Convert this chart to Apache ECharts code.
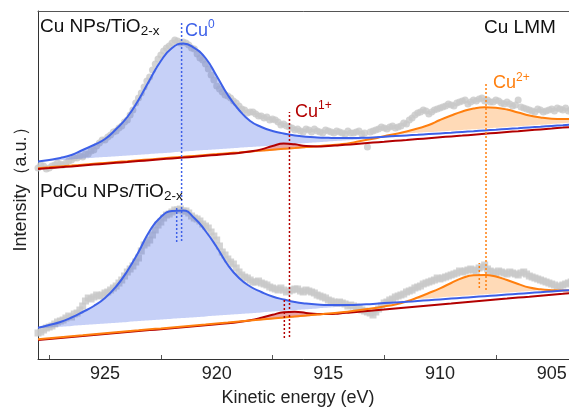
<!DOCTYPE html>
<html>
<head>
<meta charset="utf-8">
<script src="https://cdn.jsdelivr.net/npm/echarts@6/dist/echarts.min.js"></script>
<style>
  html, body { margin: 0; padding: 0; background: #fff; }
  #chart { width: 569px; height: 407px; }
</style>
</head>
<body>
<div id="chart"></div>
<script>
// Kinetic energy grid of the fitted components (eV)
const keFit = [928, 927.5, 927, 926.5, 926, 925.5, 925, 924.5, 924, 923.5, 923, 922.5, 922, 921.5, 921, 920.5, 920, 919.5, 919, 918.5, 918, 917.5, 917, 916.5, 916, 915.5, 915, 914.5, 914, 913.5, 913, 912.5, 912, 911.5, 911, 910.5, 910, 909.5, 909, 908.5, 908, 907.5, 907, 906.5, 906, 905.5, 905, 904.5, 904];

// Kinetic energies of the measured points (eV), two interleaved scans
const keRawA = [928, 927.75, 927.5, 927.25, 927, 926.75, 926.5, 926.25, 926, 925.75, 925.5, 925.25, 925, 924.75, 924.5, 924.25, 924, 923.75, 923.5, 923.25, 923, 922.75, 922.5, 922.25, 922, 921.75, 921.5, 921.25, 921, 920.75, 920.5, 920.25, 920, 919.75, 919.5, 919.25, 919, 918.75, 918.5, 918.25, 918, 917.75, 917.5, 917.25, 917, 916.75, 916.5, 916.25, 916, 915.75, 915.5, 915.25, 915, 914.75, 914.5, 914.25, 914, 913.75, 913.5, 913.25, 913, 912.75, 912.5, 912.25, 912, 911.75, 911.5, 911.25, 911, 910.75, 910.5, 910.25, 910, 909.75, 909.5, 909.25, 909, 908.75, 908.5, 908.25, 908, 907.75, 907.5, 907.25, 907, 906.75, 906.5, 906.25, 906, 905.75, 905.5, 905.25, 905, 904.75, 904.5, 904.25, 904];
const keRawB = [927.875, 927.625, 927.375, 927.125, 926.875, 926.625, 926.375, 926.125, 925.875, 925.625, 925.375, 925.125, 924.875, 924.625, 924.375, 924.125, 923.875, 923.625, 923.375, 923.125, 922.875, 922.625, 922.375, 922.125, 921.875, 921.625, 921.375, 921.125, 920.875, 920.625, 920.375, 920.125, 919.875, 919.625, 919.375, 919.125, 918.875, 918.625, 918.375, 918.125, 917.875, 917.625, 917.375, 917.125, 916.875, 916.625, 916.375, 916.125, 915.875, 915.625, 915.375, 915.125, 914.875, 914.625, 914.375, 914.125, 913.875, 913.625, 913.375, 913.125, 912.875, 912.625, 912.375, 912.125, 911.875, 911.625, 911.375, 911.125, 910.875, 910.625, 910.375, 910.125, 909.875, 909.625, 909.375, 909.125, 908.875, 908.625, 908.375, 908.125, 907.875, 907.625, 907.375, 907.125, 906.875, 906.625, 906.375, 906.125, 905.875, 905.625, 905.375, 905.125, 904.875, 904.625, 904.375, 904.125];

// ---- Cu NPs/TiO2-x (upper trace, offset intensity) ----
const cuRawA = [191, 193, 191, 194, 195, 196, 199, 201, 202, 205, 209, 216, 219, 224, 228, 233, 239, 249, 261, 272, 282, 295, 304, 311, 316, 318, 317, 314, 310, 301, 295, 284, 273, 267, 263, 258, 253, 249, 247, 245, 243, 242, 240, 237, 235, 232, 229, 228, 230, 227, 228, 226, 228, 226, 227, 225, 226, 227, 225, 212, 228, 230, 231, 232, 231, 233, 235, 241, 246, 249, 245, 249, 251, 253, 254, 256, 258, 255, 259, 260, 258, 257, 259, 256, 257, 253, 259, 251, 249, 247, 249, 248, 250, 251, 249, 248, 247];
const cuRawB = [194, 190, 193, 196, 194, 198, 201, 203, 205, 208, 213, 219, 222, 227, 231, 237, 244, 256, 266, 278, 289, 300, 308, 313, 319, 316, 316, 311, 305, 299, 290, 279, 270, 264, 261, 256, 250, 246, 247, 243, 241, 239, 239, 234, 233, 231, 230, 227, 229, 230, 227, 229, 227, 228, 226, 228, 226, 228, 226, 227, 229, 232, 230, 233, 232, 236, 239, 244, 247, 248, 247, 250, 252, 255, 253, 257, 259, 257, 258, 261, 259, 257, 258, 255, 255, 254, 252, 250, 248, 250, 247, 249, 248, 250, 251, 249];
const cuBackground = [190, 190.9, 191.8, 192.6, 193.5, 194.4, 195.3, 196.2, 197, 197.9, 198.8, 199.7, 200.6, 201.4, 202.3, 203.2, 204.1, 205, 205.8, 206.7, 207.6, 208.5, 209.4, 210.2, 211.1, 212, 212.9, 213.8, 214.6, 215.5, 216.4, 217.3, 218.2, 219, 219.9, 220.8, 221.7, 222.6, 223.4, 224.3, 225.2, 226.1, 227, 227.8, 228.7, 229.6, 230.5, 231.4, 232.2];
const cuCu0Background = [197.3, 198.1, 198.9, 199.6, 200.4, 201.2, 201.9, 202.7, 203.5, 204.3, 205.1, 205.8, 206.6, 207.4, 208.2, 208.9, 209.7, 210.5, 211.3, 212, 212.8, 213.6, 214.4, 215.1, 215.9, 216.7, 217.5, 218.2, 219, 219.8, 220.6, 221.3, 222.1, 222.9, 223.7, 224.4, 225.2, 226, 226.8, 227.5, 228.3, 229.1, 229.9, 230.6, 231.4, 232.2, 233, 233.7, 234.5];
const cuCu0 = [197.5, 199, 201, 204, 209, 214, 220, 230, 242, 259, 279, 298, 311, 315.5, 311, 301, 283, 264, 249, 238, 232, 228, 225.5, 223.5, 222.3, 221.6, 221.2, 221, 221, 221.2, 221.6, 222.3, 223, 223.6, 224.2, 224.9, 225.6, 226.3, 227.1, 227.8, 228.6, 229.3, 230.1, 230.8, 231.6, 232.3, 233.1, 233.8, 234.6];
const cuCu1 = [190, 190.9, 191.8, 192.6, 193.5, 194.4, 195.3, 196.2, 197, 197.9, 198.8, 199.7, 200.6, 201.4, 202.3, 203.2, 204.1, 205, 206.1, 207.5, 209.6, 213, 215.4, 214.7, 212.9, 212.5, 213, 213.8, 214.6, 215.5, 216.4, 217.3, 218.2, 219, 219.9, 220.8, 221.7, 222.6, 223.4, 224.3, 225.2, 226.1, 227, 227.8, 228.7, 229.6, 230.5, 231.4, 232.2];
const cuCu2 = [190.8, 191.7, 192.6, 193.4, 194.3, 195.2, 196.1, 197, 197.8, 198.7, 199.6, 200.5, 201.4, 202.2, 203.1, 204, 204.9, 205.8, 206.6, 207.5, 208.4, 209.3, 210.2, 211, 211.9, 212.8, 213.7, 214.6, 216, 218.3, 220.3, 222.8, 225, 227.5, 230.5, 234, 239, 243.5, 247.5, 250.5, 251.7, 251.2, 249.5, 246.5, 243.5, 241.5, 240.3, 240, 240];

// ---- PdCu NPs/TiO2-x (lower trace) ----
const pdcuRawA = [26, 29, 32, 35, 38, 41, 42, 46, 53, 61, 62, 63, 66, 69, 73, 79, 87, 93, 101, 114, 119, 129, 137, 144, 147, 149, 148, 146, 141, 138, 133, 127, 119, 107, 100, 95, 87, 82, 79, 77, 76, 74, 71, 69, 69, 68, 70, 68, 69, 67, 64, 62, 59, 57, 57, 55, 54, 52, 49, 47, 44, 50, 56, 59, 62, 64, 67, 69, 72, 75, 77, 79, 80, 82, 84, 86, 87, 89, 89, 91, 94, 88, 86, 87, 85, 86, 84, 87, 83, 81, 79, 77, 75, 72, 74, 76, 75];
const pdcuRawB = [27, 31, 33, 37, 39, 43, 45, 49, 58, 60, 64, 64, 67, 71, 76, 83, 90, 97, 108, 116, 124, 134, 141, 145, 149, 150, 148, 143, 140, 135, 131, 123, 113, 104, 97, 91, 84, 81, 77, 78, 75, 72, 70, 71, 67, 69, 70, 67, 68, 66, 63, 61, 58, 56, 56, 53, 53, 51, 48, 46, 47, 53, 57, 60, 63, 65, 68, 71, 73, 76, 78, 81, 81, 83, 85, 88, 88, 90, 88, 92, 90, 87, 88, 86, 87, 85, 86, 85, 82, 80, 78, 76, 74, 73, 75, 77];
const pdcuBackground = [19, 20, 21, 22, 22.9, 23.9, 24.9, 25.9, 26.9, 27.9, 28.9, 29.8, 30.8, 31.8, 32.8, 33.8, 34.8, 35.7, 36.7, 37.7, 38.7, 39.7, 40.7, 41.7, 42.6, 43.6, 44.6, 45.6, 46.6, 47.6, 48.6, 49.5, 50.5, 51.5, 52.5, 53.5, 54.5, 55.4, 56.4, 57.4, 58.4, 59.4, 60.4, 61.4, 62.3, 63.3, 64.3, 65.3, 66.3];
const pdcuCu0Background = [30.7, 31.5, 32.3, 33.1, 33.9, 34.7, 35.5, 36.3, 37.1, 37.9, 38.7, 39.5, 40.3, 41, 41.8, 42.6, 43.4, 44.2, 45, 45.8, 46.6, 47.4, 48.2, 49, 49.8, 50.6, 51.4, 52.2, 53, 53.8, 54.6, 55.4, 56.1, 56.9, 57.7, 58.5, 59.3, 60.1, 60.9, 61.7, 62.5, 63.3, 64.1, 64.9, 65.7, 66.5, 67.3, 68.1, 68.9];
const pdcuCu0 = [31.3, 34, 37, 41.5, 47, 53, 61, 72.5, 88, 107, 128, 142, 148, 148.5, 141, 128, 112, 94, 81, 72.5, 67, 62.5, 59.5, 57, 55.5, 54.5, 54, 54, 54, 54.5, 55, 56, 56.5, 57.2, 58, 58.8, 59.6, 60.4, 61.2, 62, 62.8, 63.6, 64.4, 65.2, 66, 66.8, 67.6, 68.4, 69.2];
const pdcuCu1 = [19, 20, 21, 22, 22.9, 23.9, 24.9, 25.9, 26.9, 27.9, 28.9, 29.8, 30.8, 31.8, 32.8, 33.8, 34.8, 35.7, 37, 38.7, 41.2, 44.2, 46.7, 47.2, 46.1, 45.1, 45, 45.6, 46.6, 47.6, 48.6, 49.5, 50.5, 51.5, 52.5, 53.5, 54.5, 55.4, 56.4, 57.4, 58.4, 59.4, 60.4, 61.4, 62.3, 63.3, 64.3, 65.3, 66.3];
const pdcuCu2 = [19.8, 20.8, 21.8, 22.8, 23.7, 24.7, 25.7, 26.7, 27.7, 28.7, 29.7, 30.6, 31.6, 32.6, 33.6, 34.6, 35.6, 36.5, 37.5, 38.5, 39.5, 40.5, 41.5, 42.5, 43.4, 44.4, 45.4, 46.6, 47.8, 49.2, 50.8, 52.6, 54.5, 57.5, 61.5, 66, 70.7, 76, 81, 83.7, 84, 82.5, 79, 75, 71.5, 69.7, 68.8, 68.4, 69];

// Peak-position guides: [kinetic energy, lower intensity, upper intensity]
const cu0Guides = [[921.57, 118, 336], [921.79, 117, 151]];
const cu1Guides = [[916.74, 22, 247], [916.97, 21, 61]];
const cu2Guides = [[907.94, 69, 276], [908.24, 71, 96]];

// Axis ticks
const majorTicks = [925, 920, 915, 910, 905];
const minorTicks = [927.5, 922.5, 917.5, 912.5, 907.5];

const FONT = '"Liberation Sans", Arial, Helvetica, sans-serif';
const BLUE = '#3d60e8';
const BLUE_FILL = 'rgba(65, 100, 230, 0.30)';
const RED = '#b30000';
const RED_FILL = 'rgba(200, 30, 30, 0.40)';
const ORANGE = '#ff7f0e';
const ORANGE_FILL = 'rgba(255, 140, 30, 0.32)';
const GRAY = '#c8c8c8';
const FILL_GAP = 2; // white gap between a component fill and the line beneath it

// Rows are [intensity, energy] so the intensity is the first (stackable) dimension;
// encode maps them back onto the axes.
const rows = (xs, ys) => xs.map((x, i) => [ys[i], x]);
const ENC = { x: 1, y: 0 };
const series = [];

// measured spectra
function measured(xs, ys, symbol) {
  series.push({ type: 'scatter', data: rows(xs, ys), encode: ENC, symbol: symbol, symbolSize: 7,
    itemStyle: { color: GRAY }, z: 1, silent: true });
}
measured(keRawA, cuRawA, 'circle');
measured(keRawB, cuRawB, 'circle');
measured(keRawA, pdcuRawA, 'rect');
measured(keRawB, pdcuRawB, 'rect');

// shaded component areas: an invisible floor plus the stacked height above it
function shade(id, floor, top, color) {
  const common = { type: 'line', stack: id, stackStrategy: 'all', smooth: true, showSymbol: false,
    encode: ENC, lineStyle: { width: 0, opacity: 0 }, z: 2, silent: true };
  series.push(Object.assign({}, common, { data: rows(keFit, floor) }));
  series.push(Object.assign({}, common, {
    data: rows(keFit, top.map((v, i) => Math.max(0, v - floor[i]))),
    areaStyle: { color: color, opacity: 1 }
  }));
}
shade('cuCu0', cuCu0Background, cuCu0, BLUE_FILL);
shade('cuCu1', cuBackground, cuCu1, RED_FILL);
shade('cuCu2', cuCu0.map(v => v + FILL_GAP), cuCu2, ORANGE_FILL);
shade('pdcuCu0', pdcuCu0Background, pdcuCu0, BLUE_FILL);
shade('pdcuCu1', pdcuBackground, pdcuCu1, RED_FILL);
shade('pdcuCu2', pdcuCu0.map(v => v + FILL_GAP), pdcuCu2, ORANGE_FILL);

// fitted component curves
function curve(values, color, z) {
  series.push({ type: 'line', data: rows(keFit, values), encode: ENC, smooth: true, showSymbol: false,
    lineStyle: { color: color, width: 2 }, z: z, silent: true });
}
curve(cuCu2, ORANGE, 3);
curve(cuCu1, RED, 3);
curve(cuCu0, BLUE, 3);
curve(pdcuCu1, RED, 3);
curve(pdcuCu2, ORANGE, 3);
curve(pdcuCu0, BLUE, 3);

// dotted peak-position guides
function guides(list, color) {
  list.forEach(([ke, lo, hi]) => series.push({
    type: 'line', data: [[lo, ke], [hi, ke]], encode: ENC, showSymbol: false, silent: true,
    lineStyle: { color: color, width: 1.5, type: [2, 2] }, z: 4
  }));
}
guides(cu0Guides, BLUE);
guides(cu1Guides, RED);
guides(cu2Guides, ORANGE);

function richLabel(x, y, text, color, mainSize, minorSize, minorAlign) {
  return {
    type: 'text', x: x, y: y, z: 10, silent: true,
    style: {
      text: text, align: 'left', verticalAlign: 'middle',
      rich: {
        m: { fontFamily: FONT, fontSize: mainSize, fill: color, color: color, lineHeight: 24 },
        s: { fontFamily: FONT, fontSize: minorSize, fill: color, color: color, lineHeight: 13,
             verticalAlign: minorAlign }
      }
    }
  };
}

const option = {
  animation: false,
  backgroundColor: '#fff',
  grid: { left: 38, top: 11, right: -5, bottom: 48, containLabel: false, outerBoundsMode: 'none' },
  xAxis: [{
    type: 'value', min: 904, max: 928, inverse: true,
    axisLine: { show: true, lineStyle: { color: '#333', width: 1 } },
    axisTick: { show: true, inside: true, length: 4, customValues: minorTicks,
      lineStyle: { color: '#555', width: 1 } },
    axisLabel: { customValues: majorTicks, fontFamily: FONT, fontSize: 18, color: '#222', margin: 6 },
    splitLine: { show: false },
    name: 'Kinetic energy (eV)', nameLocation: 'middle', nameGap: 30,
    nameTextStyle: { fontFamily: FONT, fontSize: 18, color: '#222', padding: [0, 16, 0, 0] }
  }, {
    type: 'value', position: 'top', min: 904, max: 928, inverse: true,
    axisLine: { show: true, lineStyle: { color: '#555', width: 1 } },
    axisTick: { show: false }, axisLabel: { show: false }, splitLine: { show: false }
  }],
  yAxis: {
    type: 'value', min: 0, max: 348,
    axisLine: { show: true, lineStyle: { color: '#333', width: 1 } },
    axisTick: { show: false }, axisLabel: { show: false }, splitLine: { show: false },
    name: 'Intensity（a.u.）', nameLocation: 'middle', nameGap: 8, nameRotate: 90,
    nameTextStyle: { fontFamily: FONT, fontSize: 18, color: '#222' }
  },
  series: series,
  graphic: [
    richLabel(40, 26.5, '{m|Cu NPs/TiO}{s|2-x}', '#111', 19, 13.5, 'bottom'),
    richLabel(40, 191.5, '{m|PdCu NPs/TiO}{s|2-x}', '#111', 19, 13.5, 'bottom'),
    richLabel(484, 28, '{m|Cu LMM}', '#111', 19, 13.5, 'bottom'),
    richLabel(185, 31, '{m|Cu}{s|0}', BLUE, 18, 12, 'top'),
    richLabel(295, 112, '{m|Cu}{s|1+}', RED, 18, 12, 'top'),
    richLabel(493, 83.5, '{m|Cu}{s|2+}', ORANGE, 18, 12, 'top')
  ]
};

const chart = echarts.init(document.getElementById('chart'), null, { renderer: 'canvas' });
chart.setOption(option);
</script>
</body>
</html>
